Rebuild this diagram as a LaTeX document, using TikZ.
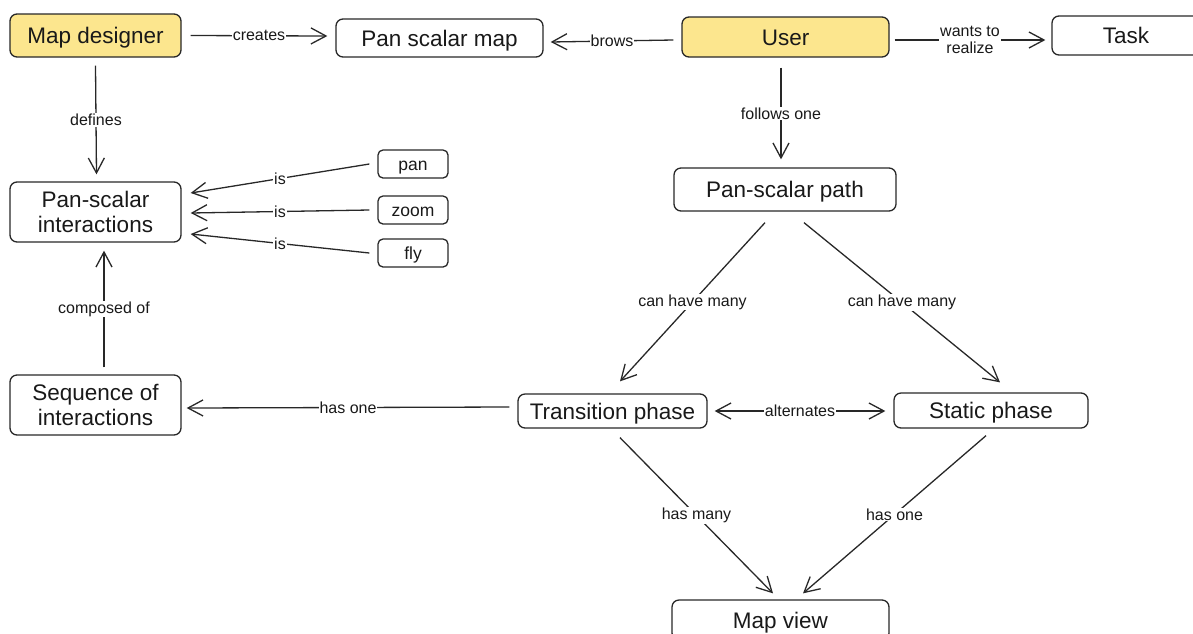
\documentclass[tikz,border=0pt]{standalone}
\usepackage{fontspec}
\setmainfont{Liberation Sans}
\usetikzlibrary{arrows.meta}
\definecolor{ylw}{RGB}{252,230,142}
\definecolor{ln}{RGB}{40,40,40}
\tikzset{
  box/.style={draw=ln, line width=1.3pt, rounded corners=7pt, rectangle, align=center, text=black!90, font=\fontsize{22.5}{25}\selectfont, inner sep=0pt},
  one/.style={text height=17pt, text depth=0.9pt},
  hl/.style={box, one, fill=ylw},
  small/.style={box, text height=13.2pt, text depth=0.7pt, font=\fontsize{17.5}{19}\selectfont, rounded corners=5pt},
  arr/.style={draw=ln, line width=1.3pt, -{Straight Barb[length=15pt,width=16pt,line width=1.3pt]}},
  barr/.style={arr, {Straight Barb[length=15pt,width=16pt,line width=1.3pt]}-{Straight Barb[length=15pt,width=16pt,line width=1.3pt]}},
  lbl/.style={fill=white, inner sep=1pt, font=\fontsize{16}{17}\selectfont, text=black!90, align=center},
}
\begin{document}
\begin{tikzpicture}[x=1pt,y=-1pt]
\useasboundingbox (0,0) rectangle (1193,633);
\node[hl, minimum width=171pt, minimum height=43pt] (md) at (95.5,35.5) {Map designer};
\node[box, one, minimum width=207pt, minimum height=38pt] (psm) at (439.5,38) {Pan scalar map};
\node[hl, minimum width=207pt, minimum height=40pt] (user) at (785.5,37) {User};
\node[box, one, minimum width=148pt, minimum height=39pt] (task) at (1126,35.5) {Task};
\node[box, minimum width=171pt, minimum height=60pt] (psi) at (95.5,212) {Pan-scalar\\interactions};
\node[small, minimum width=70pt, minimum height=28pt] (pan) at (413,164) {pan};
\node[small, minimum width=70pt, minimum height=28pt] (zoom) at (413,210) {zoom};
\node[small, minimum width=70pt, minimum height=28pt] (fly) at (413,253) {fly};
\node[box, minimum width=171pt, minimum height=60pt] (seq) at (95.5,405) {Sequence of\\interactions};
\node[box, one, minimum width=222pt, minimum height=43pt] (path) at (785,189.5) {Pan-scalar path};
\node[box, one, minimum width=189pt, minimum height=34pt] (trans) at (612.5,411) {Transition phase};
\node[box, one, minimum width=194pt, minimum height=35pt] (static) at (991,410.5) {Static phase};
\node[box, one, minimum width=217pt, minimum height=40pt] (mv) at (780.5,620) {Map view};

\draw[arr] ([xshift=9pt]md.east) -- node[lbl]{creates} ([xshift=-8pt,yshift=-0.5pt]psm.west |- md.east);
\draw[arr] ([xshift=-8pt,yshift=-3pt]user.west) -- node[lbl]{brows} ([xshift=7pt,yshift=-4pt]psm.east);
\draw[arr] ([xshift=5pt,yshift=-3pt]user.east) -- node[lbl]{wants to\\realize} ([xshift=-6pt,yshift=-4.5pt]task.west);
\draw[arr] ([yshift=-8pt]md.south) -- node[lbl]{defines} ([xshift=1pt,yshift=7pt]psi.north);
\draw[arr] ([xshift=-8pt]pan.west) -- node[lbl]{is} ([xshift=9pt,yshift=19pt]psi.east);
\draw[arr] ([xshift=-8pt]zoom.west) -- node[lbl]{is} ([xshift=9pt,yshift=-1pt]psi.east);
\draw[arr] ([xshift=-8pt]fly.west) -- node[lbl]{is} ([xshift=9pt,yshift=-22pt]psi.east);
\draw[arr] ([xshift=8.5pt,yshift=7pt]seq.north) -- node[lbl]{composed of} ([xshift=8.5pt,yshift=-8pt]psi.south);
\draw[arr] ([xshift=-4.5pt,yshift=-10pt]user.south) -- node[lbl]{follows one} ([xshift=-4pt,yshift=8pt]path.north);
\draw[arr] ([xshift=-20pt,yshift=-11pt]path.south) -- node[lbl]{can have many} ([xshift=7.5pt,yshift=12pt]trans.north);
\draw[arr] ([xshift=19pt,yshift=-11pt]path.south) -- node[lbl]{can have many} ([xshift=9pt,yshift=10pt]static.north);
\draw[arr] ([xshift=-8pt,yshift=4pt]trans.west) -- node[lbl]{has one} ([xshift=5pt,yshift=-3pt]seq.east);
\draw[barr] ([xshift=7pt]trans.east) -- node[lbl]{alternates} ([xshift=-8pt,yshift=-0.5pt]static.west);
\draw[arr] ([xshift=7.5pt,yshift=-9pt]trans.south) -- node[lbl]{has many} ([xshift=-7.5pt,yshift=6pt]mv.north);
\draw[arr] ([xshift=-5pt,yshift=-7pt]static.south) -- node[lbl]{has one} ([xshift=22.5pt,yshift=6pt]mv.north);
\end{tikzpicture}
\end{document}
